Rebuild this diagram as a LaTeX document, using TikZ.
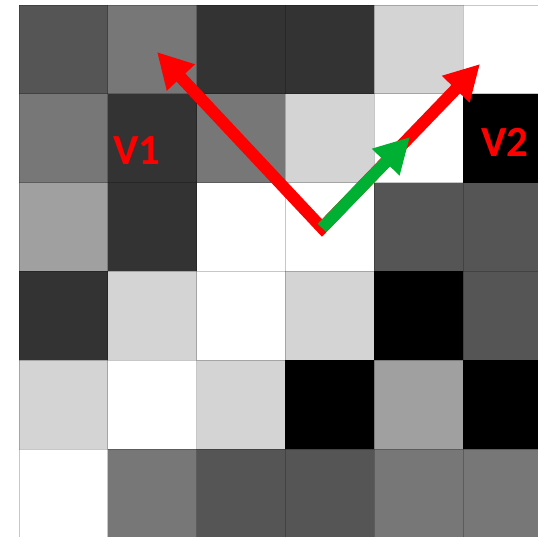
\documentclass[tikz,border=0pt]{standalone}
\usepackage{fontspec}
\setmainfont{Carlito}
\usetikzlibrary{arrows.meta}
\definecolor{gA}{HTML}{555555}
\definecolor{gB}{HTML}{777777}
\definecolor{gC}{HTML}{333333}
\definecolor{gD}{HTML}{D4D4D4}
\definecolor{gE}{HTML}{FFFFFF}
\definecolor{gF}{HTML}{000000}
\definecolor{gG}{HTML}{A0A0A0}
\definecolor{vred}{HTML}{FF0000}
\definecolor{vgreen}{HTML}{00B032}
\tikzset{
  cellbox/.style={draw=black, draw opacity=0.22, line width=0.9pt},
  vec/.style={line width=12pt, miter limit=10, line join=miter,
    -{Triangle[length=35pt,width=36pt]}},
  vlabel/.style={text=vred, font=\bfseries\fontsize{43}{43}\selectfont, inner sep=0pt}
}
\begin{document}
\begin{tikzpicture}[x=1pt,y=-1pt]
\useasboundingbox (0,0) rectangle (538,536);
\begin{scope}
\clip (0,0) rectangle (538,536);
\def\cs{88.8}
\foreach \row [count=\r from 0] in {
  {gA,gB,gC,gC,gD,gE},
  {gB,gC,gB,gD,gE,gF},
  {gG,gC,gE,gE,gA,gA},
  {gC,gD,gE,gD,gF,gA},
  {gD,gE,gD,gF,gG,gF},
  {gE,gB,gA,gA,gB,gB}}{
  \foreach \c [count=\k from 0] in \row {
    \fill[\c] ({19+\k*\cs},{5+\r*\cs}) rectangle ++(\cs,\cs);
  }
}
\foreach \i in {0,...,6}{
  \draw[cellbox] ({19+\i*\cs},5) -- ({19+\i*\cs},{5+6*\cs});
  \draw[cellbox] (19,{5+\i*\cs}) -- ({19+6*\cs},{5+\i*\cs});
}
\end{scope}
\coordinate (o) at (322,228);
\coordinate (v1) at (157,52);
\coordinate (v2) at (480,64);
\coordinate (g) at (410,137);
\draw[vec, vred, {Triangle[length=35pt,width=36pt]}-{Triangle[length=35pt,width=36pt]}] (v1) -- (o) -- (v2);
\draw[vec, vgreen] (o) -- (g);
\node[vlabel] (l1) at (137,151) {V1};
\node[vlabel] (l2) at (505,142) {V2};
\end{tikzpicture}
\end{document}
